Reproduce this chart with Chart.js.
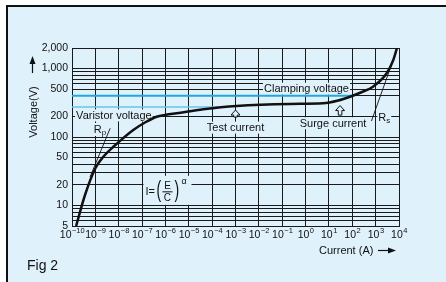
<!DOCTYPE html>
<html>
<head>
<meta charset="utf-8">
<script src="https://cdn.jsdelivr.net/npm/chart.js@4.4.1/dist/chart.umd.min.js"></script>
<style>
  html, body { margin: 0; padding: 0; background: #fff; }
  canvas { display: block; }
</style>
</head>
<body>
<canvas id="vi" width="446" height="282"></canvas>
<script>
// varistor V-I curve
const currents = [1.5e-10, 3.6e-10, 1e-9, 2.34e-9, 5.9e-9, 4.2e-8, 1.34e-7, 4.2e-7, 1.06e-6, 3e-6, 4.2e-5, 1.1e-3, 0.22, 5.6, 25, 80, 260, 770, 2970, 5700, 8200];
const voltages = [5, 14.2, 35, 52.8, 72, 127, 163, 198, 211, 222, 254, 284, 304, 311, 342, 388, 455, 543, 853, 1336, 2000];

// reference lines
const varistorCurrents = [1e-10, 4.4e-4];
const varistorVolts = [275, 275];
const clampCurrents = [1e-10, 95];
const clampVolts = [400, 400];
const rpCurrents = [5.9e-10, 4.3e-9];
const rpVolts = [26, 134];
const rsCurrents = [660, 4570];
const rsVolts = [171, 1091];

// axes
const xTickExps = [-10, -9, -8, -7, -6, -5, -4, -3, -2, -1, 0, 1, 2, 3, 4];
const yGrid = [5, 6, 7, 8, 9, 10, 20, 30, 40, 50, 60, 70, 80, 90, 100, 200, 400, 500, 600, 700, 800, 900, 1000, 2000];
const yLabels = [5, 10, 20, 50, 100, 200, 500, 1000, 2000];

const BG = '#dff1fb';
const INK = '#111';
const FONT = '"Liberation Sans", Arial, Helvetica, sans-serif';

function pts(xs, ys) {
  return xs.map((x, i) => ({ x: x, y: ys[i] }));
}

function boxText(c, txt, x, y, align) {
  c.font = '11px ' + FONT;
  const w = c.measureText(txt).width;
  const left = align === 'center' ? x - w / 2 : x;
  c.fillStyle = BG;
  c.fillRect(left - 1, y - 6, w + 2, 12);
  c.fillStyle = INK;
  c.textAlign = 'left';
  c.textBaseline = 'middle';
  c.fillText(txt, left, y + 0.5);
}

function subText(c, main, sub, x, y) {
  c.font = '11px ' + FONT;
  const w1 = c.measureText(main).width;
  c.font = '8px ' + FONT;
  const w2 = c.measureText(sub).width;
  c.fillStyle = BG;
  c.fillRect(x - 1, y - 6, w1 + w2 + 2, 13);
  c.fillStyle = INK;
  c.textAlign = 'left';
  c.textBaseline = 'alphabetic';
  c.font = '11px ' + FONT;
  c.fillText(main, x, y + 4);
  c.font = '8px ' + FONT;
  c.fillText(sub, x + w1, y + 6);
}

function upArrow(c, x, yTip, yBot) {
  c.beginPath();
  c.moveTo(x, yTip);
  c.lineTo(x + 4.5, yTip + 5);
  c.lineTo(x + 1.8, yTip + 5);
  c.lineTo(x + 1.8, yBot);
  c.lineTo(x - 1.8, yBot);
  c.lineTo(x - 1.8, yTip + 5);
  c.lineTo(x - 4.5, yTip + 5);
  c.closePath();
  c.fillStyle = BG;
  c.fill();
  c.strokeStyle = INK;
  c.lineWidth = 1;
  c.stroke();
}

const figPlugin = {
  id: 'fig',
  beforeDraw(chart) {
    const c = chart.ctx;
    c.save();
    c.fillStyle = '#fff';
    c.fillRect(0, 0, chart.width, chart.height);
    c.fillStyle = BG;
    c.fillRect(7, 6, chart.width - 7, chart.height - 6);
    c.fillStyle = INK;
    c.fillRect(6, 5, chart.width - 6, 2);
    c.fillRect(6, 5, 2, chart.height - 5);
    c.restore();
  },
  beforeDatasetsDraw(chart) {
    const c = chart.ctx;
    const xs = chart.scales.x, ys = chart.scales.y;
    const px = v => xs.getPixelForValue(v);
    const py = v => ys.getPixelForValue(v);
    c.save();
    boxText(c, 'Varistor voltage', px(1.5e-10), py(200) - 1, 'left');
    boxText(c, 'Clamping voltage', px(1.66e-2), py(500) - 0.5, 'left');
    boxText(c, 'Test current', px(1e-3), py(137), 'center');
    boxText(c, 'Surge current', px(15), py(159), 'center');
    upArrow(c, px(1e-3), py(248), py(196));
    upArrow(c, px(30), py(288), py(209));
    subText(c, 'R', 'p', px(8.5e-10), py(131));
    subText(c, 'R', 's', px(1300), py(198));

    // I = (E / C)^alpha
    const fx = px(1.4e-7), fy = py(20) + 6;
    c.fillStyle = BG;
    c.fillRect(fx - 2, fy - 15, 48, 29);
    c.fillStyle = INK;
    c.textBaseline = 'middle';
    c.textAlign = 'left';
    c.font = '11px ' + FONT;
    c.fillText('I=', fx, fy + 1);
    c.save();
    c.translate(fx + 11, fy);
    c.scale(1, 1.7);
    c.font = '14px ' + FONT;
    c.fillText('(', 0, 0);
    c.fillText(')', 18, 0);
    c.restore();
    c.textAlign = 'center';
    c.font = '10px ' + FONT;
    c.fillText('E', fx + 22, fy - 5);
    c.fillText('C', fx + 22, fy + 7);
    c.fillRect(fx + 17, fy + 0.5, 10, 1);
    c.textAlign = 'left';
    c.font = '9px ' + FONT;
    c.fillText('\u03b1', fx + 36, fy - 9);
    c.restore();
  },
  afterDraw(chart) {
    const c = chart.ctx;
    const xs = chart.scales.x;
    const area = chart.chartArea;
    c.save();
    c.fillStyle = INK;
    c.textAlign = 'left';
    c.textBaseline = 'alphabetic';
    xTickExps.forEach(e => {
      const base = '10';
      const sup = e < 0 ? '\u2212' + Math.abs(e) : String(e);
      c.font = '10.5px ' + FONT;
      const w1 = c.measureText(base).width;
      c.font = '7.5px ' + FONT;
      const w2 = c.measureText(sup).width;
      const x0 = xs.getPixelForValue(Math.pow(10, e)) - (w1 + w2) / 2;
      c.font = '10.5px ' + FONT;
      c.fillText(base, x0, area.bottom + 12);
      c.font = '7.5px ' + FONT;
      c.fillText(sup, x0 + w1 + 0.5, area.bottom + 6.5);
    });

    // axis titles
    c.font = '11px ' + FONT;
    c.fillText('Current (A)', 319, 254);
    c.strokeStyle = INK;
    c.lineWidth = 1.2;
    c.beginPath();
    c.moveTo(378, 250.5);
    c.lineTo(392, 250.5);
    c.stroke();
    c.beginPath();
    c.moveTo(396, 250.5);
    c.lineTo(388, 247.5);
    c.lineTo(388, 253.5);
    c.closePath();
    c.fill();

    c.save();
    c.translate(37, 112);
    c.rotate(-Math.PI / 2);
    c.textAlign = 'center';
    c.fillText('Voltage(V)', 0, 0);
    c.restore();
    c.beginPath();
    c.moveTo(32.5, 73);
    c.lineTo(32.5, 60);
    c.stroke();
    c.beginPath();
    c.moveTo(32.5, 56);
    c.lineTo(29.5, 64);
    c.lineTo(35.5, 64);
    c.closePath();
    c.fill();

    c.font = '14px ' + FONT;
    c.fillText('Fig 2', 27, 270);
    c.restore();
  }
};

new Chart(document.getElementById('vi'), {
  type: 'line',
  data: {
    datasets: [
      { data: pts(currents, voltages), borderColor: INK, borderWidth: 2.5, cubicInterpolationMode: 'monotone', pointRadius: 0 },
      { data: pts(varistorCurrents, varistorVolts), borderColor: '#62c6ef', borderWidth: 1.5, pointRadius: 0 },
      { data: pts(clampCurrents, clampVolts), borderColor: '#1ea8e0', borderWidth: 2, pointRadius: 0 },
      { data: pts(rpCurrents, rpVolts), borderColor: INK, borderWidth: 0.9, pointRadius: 0 },
      { data: pts(rsCurrents, rsVolts), borderColor: INK, borderWidth: 0.9, pointRadius: 0 }
    ]
  },
  options: {
    responsive: false,
    animation: false,
    events: [],
    devicePixelRatio: 1,
    layout: { padding: { left: 0, top: 48, right: 47, bottom: 0 } },
    plugins: { legend: { display: false }, tooltip: { enabled: false } },
    scales: {
      x: {
        type: 'logarithmic',
        min: 1e-10,
        max: 1e4,
        afterBuildTicks: s => { s.ticks = xTickExps.map(e => ({ value: Math.pow(10, e) })); },
        afterFit: s => { s.height = 56; },
        ticks: { display: false },
        grid: { color: '#1a1a1a', lineWidth: 1, drawTicks: false },
        border: { color: '#1a1a1a', width: 1 }
      },
      y: {
        type: 'logarithmic',
        min: 5,
        max: 2000,
        afterBuildTicks: s => { s.ticks = yGrid.map(v => ({ value: v })); },
        afterFit: s => { s.width = 72; },
        ticks: {
          autoSkip: false,
          padding: 4,
          color: INK,
          font: { family: FONT, size: 10.5 },
          callback: v => yLabels.includes(v) ? v.toLocaleString('en-US') : ''
        },
        grid: { color: '#1a1a1a', lineWidth: 1, drawTicks: false },
        border: { color: '#1a1a1a', width: 1 }
      }
    }
  },
  plugins: [figPlugin]
});
</script>
</body>
</html>
